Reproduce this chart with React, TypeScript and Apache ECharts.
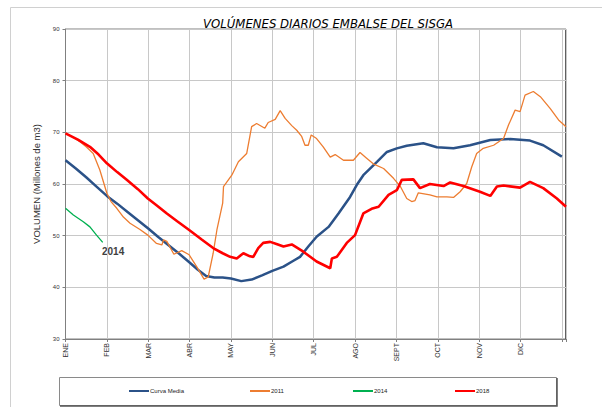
import React, { useEffect, useRef } from "react";
import * as echarts from "echarts";

const monthLabels = ["ENE", "FEB", "MAR", "ABR", "MAY", "JUN", "JUL", "AGO", "SEPT", "OCT", "NOV", "DIC"];

// x = month position (0 = start of ENE), y = volume (millones de m3)
const curvaMedia: [number, number][] = [
  [0, 64.6], [0.25, 63.0], [0.5, 61.3], [0.75, 59.5], [1.0, 57.7], [1.25, 56.2], [1.5, 54.6],
  [1.75, 53.0], [2.0, 51.4], [2.25, 49.7], [2.5, 48.1], [2.75, 46.5], [3.0, 44.8], [3.2, 43.4],
  [3.4, 42.2], [3.6, 41.9], [3.8, 41.9], [4.0, 41.7], [4.25, 41.2], [4.5, 41.5], [4.75, 42.3],
  [5.0, 43.2], [5.27, 44.0], [5.5, 45.1], [5.67, 45.9], [5.87, 47.9], [6.07, 49.8], [6.36, 51.7],
  [6.6, 54.3], [6.88, 57.5], [7.04, 59.8], [7.2, 61.7], [7.53, 64.3], [7.77, 66.2], [8.01, 66.9],
  [8.25, 67.4], [8.65, 67.9], [8.98, 67.1], [9.38, 66.9], [9.78, 67.5], [10.27, 68.5], [10.75, 68.7],
  [11.23, 68.4], [11.55, 67.5], [12.0, 65.3],
];

const serie2011: [number, number][] = [
  [0, 69.8], [0.15, 69.2], [0.35, 68.2], [0.5, 67.2], [0.67, 65.9], [0.83, 62.7], [1.0, 58.2],
  [1.1, 56.6], [1.24, 55.3], [1.4, 53.6], [1.56, 52.4], [1.8, 51.2], [1.99, 50.1], [2.2, 48.5],
  [2.33, 48.2], [2.37, 49.2], [2.45, 48.9], [2.62, 46.4], [2.81, 47.1], [2.99, 46.3], [3.17, 44.0],
  [3.35, 41.6], [3.45, 42.0], [3.57, 46.6], [3.66, 51.1], [3.8, 56.3], [3.82, 59.5], [4.02, 61.7],
  [4.18, 64.3], [4.38, 65.9], [4.5, 71.1], [4.62, 71.7], [4.82, 70.8], [4.9, 71.9], [5.07, 72.5],
  [5.19, 74.2], [5.31, 72.7], [5.47, 71.3], [5.59, 70.4], [5.71, 69.2], [5.79, 67.5], [5.87, 67.5],
  [5.94, 69.5], [6.07, 68.8], [6.23, 67.2], [6.4, 65.2], [6.52, 65.7], [6.72, 64.6], [6.96, 64.6],
  [7.12, 66.1], [7.28, 65.0], [7.44, 63.9], [7.69, 63.0], [7.93, 61.1], [8.09, 59.6], [8.25, 57.2],
  [8.37, 56.6], [8.45, 56.8], [8.53, 58.3], [8.81, 57.9], [8.98, 57.5], [9.22, 57.5], [9.38, 57.4],
  [9.54, 58.5], [9.7, 60.1], [9.82, 63.3], [9.94, 65.9], [10.1, 66.9], [10.35, 67.5], [10.59, 68.8],
  [10.71, 71.4], [10.87, 74.3], [10.99, 74.0], [11.11, 77.2], [11.31, 77.9], [11.48, 76.9],
  [11.72, 74.6], [11.92, 72.4], [12.1, 71.1],
];

const serie2014: [number, number][] = [
  [0, 55.3], [0.19, 54.0], [0.43, 52.7], [0.59, 51.7], [0.75, 50.1], [0.9, 48.7],
];

const serie2018: [number, number][] = [
  [0, 69.8], [0.3, 68.6], [0.59, 67.2], [0.8, 65.7], [1.0, 64.0], [1.25, 62.3], [1.48, 60.8],
  [1.75, 59.0], [1.99, 57.2], [2.2, 55.9], [2.45, 54.3], [2.7, 52.8], [2.99, 51.1], [3.3, 49.2],
  [3.57, 47.6], [3.8, 46.6], [3.98, 45.9], [4.14, 45.6], [4.3, 46.6], [4.46, 46.0], [4.54, 45.9],
  [4.66, 47.6], [4.78, 48.6], [4.95, 48.8], [5.1, 48.4], [5.27, 47.9], [5.47, 48.3], [5.75, 46.9],
  [6.07, 45.0], [6.4, 43.7], [6.44, 45.6], [6.56, 45.9], [6.8, 48.6], [7.0, 50.1], [7.2, 54.3],
  [7.4, 55.2], [7.57, 55.6], [7.81, 57.9], [8.01, 58.8], [8.13, 60.8], [8.41, 60.9], [8.57, 59.2],
  [8.81, 60.0], [9.14, 59.6], [9.3, 60.3], [9.62, 59.6], [10.02, 58.5], [10.27, 57.7], [10.43, 59.5],
  [10.59, 59.7], [10.99, 59.3], [11.23, 60.4], [11.55, 59.2], [11.88, 57.2], [12.1, 55.6],
];

const seriesNames = ["Curva Media", "2011", "2014", "2018"];
const seriesColors = ["#2B5288", "#ED7D31", "#00B050", "#FF0000"];
const legendLefts = [129, 250, 353, 455];

export default function App() {
  const ref = useRef<HTMLDivElement>(null);

  useEffect(() => {
    const chart = echarts.init(ref.current!, null, { renderer: "svg" });
    const font = "'Liberation Sans', Arial, sans-serif";
    const lineSeries = (name: string, data: [number, number][], color: string, width: number) => ({
      name,
      type: "line",
      data,
      symbol: "none",
      showSymbol: false,
      silent: true,
      lineStyle: { color, width },
      itemStyle: { color },
      emphasis: { disabled: true },
    });
    chart.setOption({
      animation: false,
      backgroundColor: "#ffffff",
      title: {
        text: "VOLÚMENES DIARIOS EMBALSE DEL SISGA",
        left: 323,
        top: 12,
        textAlign: "center",
        textStyle: {
          fontFamily: "'Liberation Sans Narrow', 'DejaVu Sans Condensed', sans-serif",
          fontStyle: "italic",
          fontWeight: "normal",
          fontSize: 13,
          color: "#000",
        },
      },
      grid: {
        left: 65.5,
        right: 36,
        top: 29,
        bottom: 68,
        show: true,
        borderColor: "#808080",
        borderWidth: 1,
      },
      legend: seriesNames.map((n, i) => ({
        data: [n],
        left: legendLefts[i],
        top: 388,
        padding: 0,
        icon: "rect",
        itemWidth: 20,
        itemHeight: 2,
        selectedMode: false,
        textStyle: { fontSize: 6, color: "#222", fontFamily: font, padding: [0, 0, 0, -4] },
      })),
      xAxis: {
        type: "value",
        min: 0,
        max: 12.1,
        interval: 1,
        axisLine: { show: true, onZero: false, lineStyle: { color: "#808080" } },
        axisTick: { show: true, length: 3, lineStyle: { color: "#808080" } },
        axisLabel: {
          rotate: 90,
          margin: 4,
          fontSize: 7,
          color: "#333",
          fontFamily: font,
          formatter: (v: number) => (Number.isInteger(v) && v < 12 ? monthLabels[v] : ""),
        },
        splitLine: { show: true, lineStyle: { color: "#c8c8c8", width: 1 } },
      },
      yAxis: {
        type: "value",
        min: 30,
        max: 90,
        interval: 10,
        name: "VOLUMEN (Millones de m3)",
        nameLocation: "middle",
        nameGap: 24,
        nameTextStyle: { fontSize: 9.5, color: "#333", fontFamily: font },
        axisLine: { show: true, lineStyle: { color: "#808080" } },
        axisTick: { show: true, length: 3, lineStyle: { color: "#808080" } },
        axisLabel: { fontSize: 6, color: "#333", margin: 6, fontFamily: font },
        splitLine: { show: true, lineStyle: { color: "#c8c8c8", width: 1 } },
      },
      graphic: [
        {
          type: "rect",
          shape: { x: 10.5, y: 7.5, width: 620, height: 420 },
          style: { fill: "none", stroke: "#d0d0d0", lineWidth: 1 },
          silent: true,
        },
        {
          type: "line",
          shape: { x1: 566, y1: 29, x2: 566, y2: 340 },
          style: { stroke: "#404040", lineWidth: 1.5 },
          silent: true,
        },
        {
          type: "rect",
          shape: { x: 59.5, y: 377.5, width: 497, height: 28 },
          style: { fill: "#fff", stroke: "#8a8a8a", lineWidth: 1 },
          z: -1,
          silent: true,
        },
        {
          type: "polyline",
          shape: { points: [[557, 378], [557, 406], [60, 406]] },
          style: { stroke: "#555", lineWidth: 1.5, fill: "none" },
          silent: true,
        },
        {
          type: "text",
          x: 102,
          y: 246,
          style: { text: "2014", fontSize: 10, fontWeight: "bold", fill: "#404040", fontFamily: font },
          silent: true,
        },
      ],
      series: [
        lineSeries(seriesNames[0], curvaMedia, seriesColors[0], 2.5),
        lineSeries(seriesNames[1], serie2011, seriesColors[1], 1.3),
        lineSeries(seriesNames[2], serie2014, seriesColors[2], 1.3),
        lineSeries(seriesNames[3], serie2018, seriesColors[3], 2.6),
      ],
    });
    return () => chart.dispose();
  }, []);

  return (
    <div
      ref={ref}
      style={{ position: "fixed", left: 0, top: 0, width: 602, height: 407, background: "#fff" }}
    />
  );
}
